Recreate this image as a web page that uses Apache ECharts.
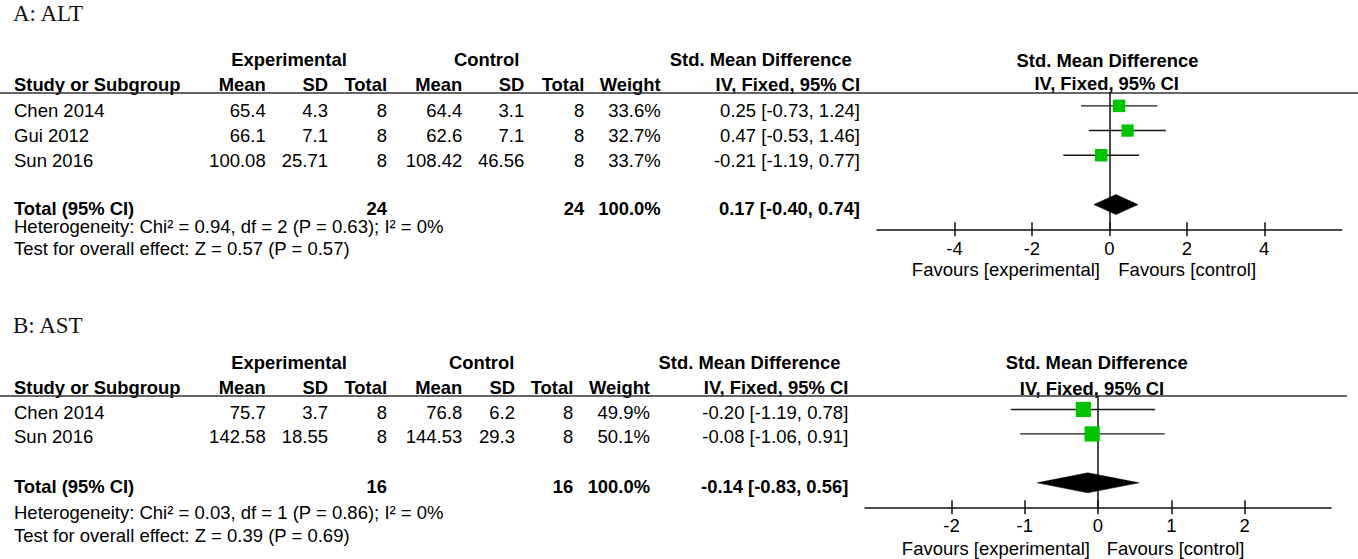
<!DOCTYPE html>
<html>
<head>
<meta charset="utf-8">
<script src="https://cdn.jsdelivr.net/npm/echarts@6/dist/echarts.min.js"></script>
<style>
html,body{margin:0;padding:0;background:#fff;}
#chart{width:1358px;height:559px;}
</style>
</head>
<body>
<div id="chart"></div>
<script>
// ---------- Panel A: ALT ----------
const altStudies = ['Chen 2014', 'Gui 2012', 'Sun 2016'];
const altExpMean = ['65.4', '66.1', '100.08'];
const altExpSD = ['4.3', '7.1', '25.71'];
const altExpN = [8, 8, 8];
const altCtlMean = ['64.4', '62.6', '108.42'];
const altCtlSD = ['3.1', '7.1', '46.56'];
const altCtlN = [8, 8, 8];
const altWeight = [33.6, 32.7, 33.7];
const altSmd = [0.25, 0.47, -0.21];
const altLo = [-0.73, -0.53, -1.19];
const altHi = [1.24, 1.46, 0.77];
const altPooled = [0.17, -0.40, 0.74];
const altTotals = [24, 24];
const altHet = 'Heterogeneity: Chi\u00b2 = 0.94, df = 2 (P = 0.63); I\u00b2 = 0%';
const altTest = 'Test for overall effect: Z = 0.57 (P = 0.57)';
const altTicks = [-4, -2, 0, 2, 4];

// ---------- Panel B: AST ----------
const astStudies = ['Chen 2014', 'Sun 2016'];
const astExpMean = ['75.7', '142.58'];
const astExpSD = ['3.7', '18.55'];
const astExpN = [8, 8];
const astCtlMean = ['76.8', '144.53'];
const astCtlSD = ['6.2', '29.3'];
const astCtlN = [8, 8];
const astWeight = [49.9, 50.1];
const astSmd = [-0.20, -0.08];
const astLo = [-1.19, -1.06];
const astHi = [0.78, 0.91];
const astPooled = [-0.14, -0.83, 0.56];
const astTotals = [16, 16];
const astHet = 'Heterogeneity: Chi\u00b2 = 0.03, df = 1 (P = 0.86); I\u00b2 = 0%';
const astTest = 'Test for overall effect: Z = 0.39 (P = 0.69)';
const astTicks = [-2, -1, 0, 1, 2];

// ---------- layout ----------
const FF = '"Liberation Sans", Arial, Helvetica, sans-serif';
const NORMAL = '18.5px ' + FF;
const BOLD = 'bold 18.4px ' + FF;
const SERIF = '23px "Liberation Serif", "Times New Roman", serif';

const panels = [
  {
    title: 'A: ALT', studies: altStudies, expMean: altExpMean, expSD: altExpSD, expN: altExpN,
    ctlMean: altCtlMean, ctlSD: altCtlSD, ctlN: altCtlN, weight: altWeight, smd: altSmd, lo: altLo, hi: altHi,
    pooled: altPooled, totals: altTotals, het: altHet, test: altTest, ticks: altTicks,
    L: { titleY: 13, groupY: 59, headY: 84.5, rowY: [110.5, 135.5, 160], totalY: 208.3, hetY: 226.7, testY: 248.3,
         cols: [265.7, 328, 387, 462.3, 524.3, 584.3, 660.7, 860], expC: 289, ctlC: 486.7, smdC: 760.8,
         ruleY: 93, ruleR: 1358, plotHeadC: [1107.5, 1106.7], plotHeadY: [60, 83.3],
         favY: 269, favL: 1100, favR: 1118.3,
         grid: { left: 877, right: 16.3, top: 92.3, height: 137 }, xMin: -6, xMax: 6, yMax: 6, totalRow: 5, labelMargin: 10 }
  },
  {
    title: 'B: AST', studies: astStudies, expMean: astExpMean, expSD: astExpSD, expN: astExpN,
    ctlMean: astCtlMean, ctlSD: astCtlSD, ctlN: astCtlN, weight: astWeight, smd: astSmd, lo: astLo, hi: astHi,
    pooled: astPooled, totals: astTotals, het: astHet, test: astTest, ticks: astTicks,
    L: { titleY: 325, groupY: 362, headY: 387.5, rowY: [412.7, 436.7], totalY: 486.7, hetY: 512.7, testY: 535,
         cols: [265.7, 328, 387, 462.3, 515, 573.3, 650, 848.3], expC: 289, ctlC: 481.7, smdC: 749.5,
         ruleY: 396, ruleR: 1347, plotHeadC: [1096.7, 1092], plotHeadY: [362.7, 388.3],
         favY: 548, favL: 1090, favR: 1106.7,
         grid: { left: 865, right: 27, top: 396, height: 111.3 }, xMin: -3.18, xMax: 3.18, yMax: 5, totalRow: 4, labelMargin: 9 }
  }
];

function txt(s, x, y, align, font, fill) {
  return {
    type: 'text', silent: true,
    style: { text: String(s), x: x, y: y, textAlign: align, align: align,
             textVerticalAlign: 'middle', verticalAlign: 'middle', font: font, fill: fill || '#000' }
  };
}
function fmtCI(e, l, h) { return e.toFixed(2) + ' [' + l.toFixed(2) + ', ' + h.toFixed(2) + ']'; }

const graphics = [];
const grids = [], xAxes = [], yAxes = [], series = [];

panels.forEach(function (p, pi) {
  const L = p.L, c = L.cols;
  graphics.push(txt(p.title, 13, L.titleY, 'left', SERIF, '#111'));
  graphics.push(txt('Experimental', L.expC, L.groupY, 'center', BOLD));
  graphics.push(txt('Control', L.ctlC, L.groupY, 'center', BOLD));
  graphics.push(txt('Std. Mean Difference', L.smdC, L.groupY, 'center', BOLD));
  const heads = ['Mean', 'SD', 'Total', 'Mean', 'SD', 'Total', 'Weight', 'IV, Fixed, 95% CI'];
  graphics.push(txt('Study or Subgroup', 14, L.headY, 'left', BOLD));
  heads.forEach(function (h, i) { graphics.push(txt(h, c[i], L.headY, 'right', BOLD)); });
  graphics.push(txt('Std. Mean Difference', L.plotHeadC[0], L.plotHeadY[0], 'center', BOLD));
  graphics.push(txt('IV, Fixed, 95% CI', L.plotHeadC[1], L.plotHeadY[1], 'center', BOLD));
  graphics.push({ type: 'line', silent: true, shape: { x1: 0, y1: L.ruleY, x2: L.ruleR, y2: L.ruleY },
                  style: { stroke: '#333', lineWidth: 1.5 } });
  p.studies.forEach(function (s, i) {
    const y = L.rowY[i];
    graphics.push(txt(s, 14, y, 'left', NORMAL));
    const vals = [p.expMean[i], p.expSD[i], p.expN[i], p.ctlMean[i], p.ctlSD[i], p.ctlN[i],
                  p.weight[i].toFixed(1) + '%', fmtCI(p.smd[i], p.lo[i], p.hi[i])];
    vals.forEach(function (v, k) { graphics.push(txt(v, c[k], y, 'right', NORMAL)); });
  });
  graphics.push(txt('Total (95% CI)', 14, L.totalY, 'left', BOLD));
  graphics.push(txt(p.totals[0], c[2], L.totalY, 'right', BOLD));
  graphics.push(txt(p.totals[1], c[5], L.totalY, 'right', BOLD));
  graphics.push(txt('100.0%', c[6], L.totalY, 'right', BOLD));
  graphics.push(txt(fmtCI(p.pooled[0], p.pooled[1], p.pooled[2]), c[7], L.totalY, 'right', BOLD));
  graphics.push(txt(p.het, 14, L.hetY, 'left', NORMAL));
  graphics.push(txt(p.test, 14, L.testY, 'left', NORMAL));
  graphics.push(txt('Favours [experimental]', L.favL, L.favY, 'right', NORMAL));
  graphics.push(txt('Favours [control]', L.favR, L.favY, 'left', NORMAL));

  // ---- plot ----
  grids.push({ left: L.grid.left, right: L.grid.right, top: L.grid.top, height: L.grid.height });
  const xi = xAxes.length;
  const axisCommon = { type: 'value', gridIndex: pi, min: L.xMin, max: L.xMax, splitLine: { show: false } };
  xAxes.push(Object.assign({}, axisCommon, {
    position: 'bottom',
    axisLine: { show: true, lineStyle: { color: '#111', width: 1.5 } },
    axisTick: { show: true, inside: false, length: 7, customValues: p.ticks, lineStyle: { color: '#111', width: 1.5 } },
    axisLabel: { show: true, customValues: p.ticks, margin: L.labelMargin, color: '#000', fontSize: 18.5, fontFamily: FF }
  }));
  xAxes.push(Object.assign({}, axisCommon, {
    position: 'bottom',
    axisLine: { show: false },
    axisTick: { show: true, inside: true, length: 7, customValues: p.ticks, lineStyle: { color: '#111', width: 1.5 } },
    axisLabel: { show: false }
  }));
  yAxes.push({
    type: 'value', gridIndex: pi, min: 0.45, max: L.yMax, inverse: true,
    axisLine: { show: true, onZero: true, lineStyle: { color: '#111', width: 1.5 } },
    axisTick: { show: false }, axisLabel: { show: false }, splitLine: { show: false }
  });
  const ciData = p.studies.map(function (s, i) { return [p.lo[i], p.hi[i], i + 1]; });
  series.push({
    type: 'custom', xAxisIndex: xi, yAxisIndex: pi, z: 2, silent: true,
    encode: { x: [0, 1], y: 2 },
    data: ciData,
    renderItem: function (params, api) {
      const a = api.coord([api.value(0), api.value(2)]);
      const b = api.coord([api.value(1), api.value(2)]);
      return { type: 'line', shape: { x1: a[0], y1: a[1], x2: b[0], y2: b[1] },
               style: { stroke: '#1a1a1a', lineWidth: 1.4 } };
    }
  });
  series.push({
    type: 'scatter', xAxisIndex: xi, yAxisIndex: pi, z: 3, silent: true,
    symbol: 'rect',
    data: p.studies.map(function (s, i) { return [p.smd[i], i + 1, p.weight[i]]; }),
    symbolSize: function (v) { return Math.sqrt(v[2]) * 2.15; },
    itemStyle: { color: '#00c400', opacity: 1 }
  });
  series.push({
    type: 'custom', xAxisIndex: xi, yAxisIndex: pi, z: 3, silent: true,
    encode: { x: [0, 1, 2], y: 3 },
    data: [[p.pooled[0], p.pooled[1], p.pooled[2], L.totalRow]],
    renderItem: function (params, api) {
      const y = api.value(3);
      const e = api.coord([api.value(0), y]);
      const l = api.coord([api.value(1), y]);
      const h = api.coord([api.value(2), y]);
      const hh = 10;
      return { type: 'polygon',
               shape: { points: [[l[0], e[1]], [e[0], e[1] - hh], [h[0], e[1]], [e[0], e[1] + hh]] },
               style: { fill: '#000', stroke: '#000', lineWidth: 0.5 } };
    }
  });
});

const chart = echarts.init(document.getElementById('chart'), null, { renderer: 'svg', width: 1358, height: 559 });
chart.setOption({
  backgroundColor: '#fff',
  animation: false,
  grid: grids,
  xAxis: xAxes,
  yAxis: yAxes,
  series: series,
  graphic: graphics
});
</script>
</body>
</html>
